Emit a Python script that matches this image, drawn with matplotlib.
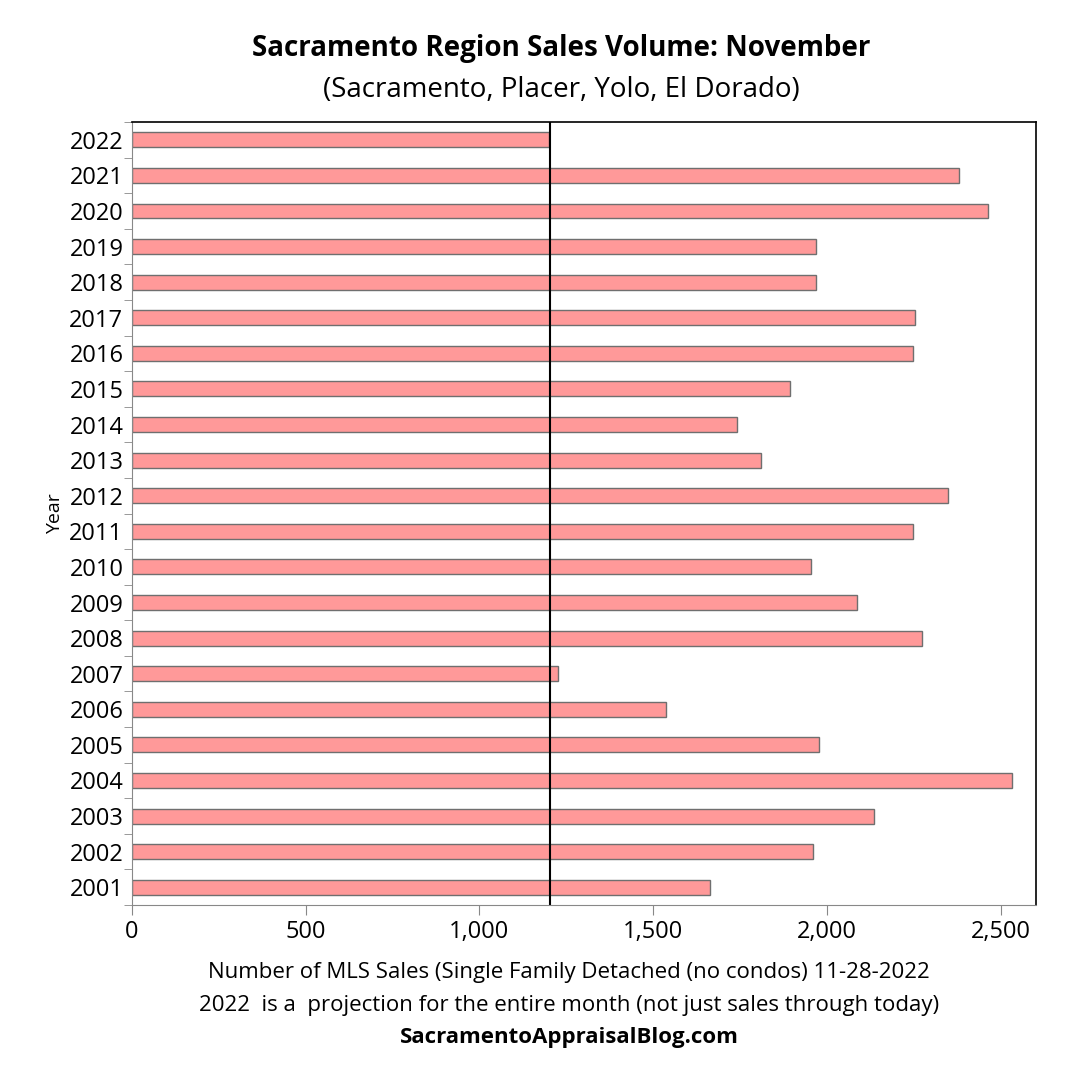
import matplotlib.pyplot as plt
import numpy as np

years = list(range(2001, 2023))
sales = [1663, 1959, 2134, 2533, 1977, 1536, 1225, 2273, 2086, 1954, 2248,
         2349, 1811, 1740, 1892, 2248, 2252, 1968, 1968, 2463, 2380, 1201]
ref_line = 1204
xticks = [0, 500, 1000, 1500, 2000, 2500]

plt.rcParams['font.family'] = ['Open Sans', 'DejaVu Sans']

fig = plt.figure(figsize=(10.8, 10.8), dpi=100)
ax = fig.add_axes([0.122, 0.162, 0.837, 0.725])

y = np.arange(len(years))
ax.barh(y, sales, height=0.42, color='#ff9999', edgecolor='#6f6f6f', linewidth=1)
ax.axvline(ref_line, color='black', lw=1.5)

ax.set_xlim(0, 2600)
ax.set_ylim(-0.5, len(years) - 0.5)
ax.set_yticks(y)
ax.set_yticklabels([str(v) for v in years], fontsize=17)
ax.tick_params(axis='y', length=0, pad=6)
ax.set_yticks(np.arange(-0.5, len(years), 1), minor=True)
ax.tick_params(axis='y', which='minor', length=6, color='#888888')
ax.set_xticks(xticks)
ax.set_xticklabels([f"{v:,}" for v in xticks], fontsize=17)
ax.tick_params(axis='x', length=7, color='#888888', pad=4)
for s in ['top', 'right']:
    ax.spines[s].set_color('black')
    ax.spines[s].set_linewidth(1.2)
for s in ['left', 'bottom']:
    ax.spines[s].set_color('#888888')

ax.set_ylabel("Year", fontsize=14, labelpad=4)

fig.text(0.52, 0.948, "Sacramento Region Sales Volume: November", ha='center',
         fontsize=20, fontweight='bold')
fig.text(0.52, 0.91, "(Sacramento, Placer, Yolo, El Dorado)", ha='center', fontsize=20)
fig.text(0.527, 0.094, "Number of MLS Sales (Single Family Detached (no condos) 11-28-2022",
         ha='center', fontsize=16)
fig.text(0.527, 0.064, "2022  is a  projection for the entire month (not just sales through today)",
         ha='center', fontsize=16)
fig.text(0.527, 0.034, "SacramentoAppraisalBlog.com", ha='center', fontsize=16,
         fontweight='bold')

fig.savefig("out.png", dpi=100, facecolor='white')
